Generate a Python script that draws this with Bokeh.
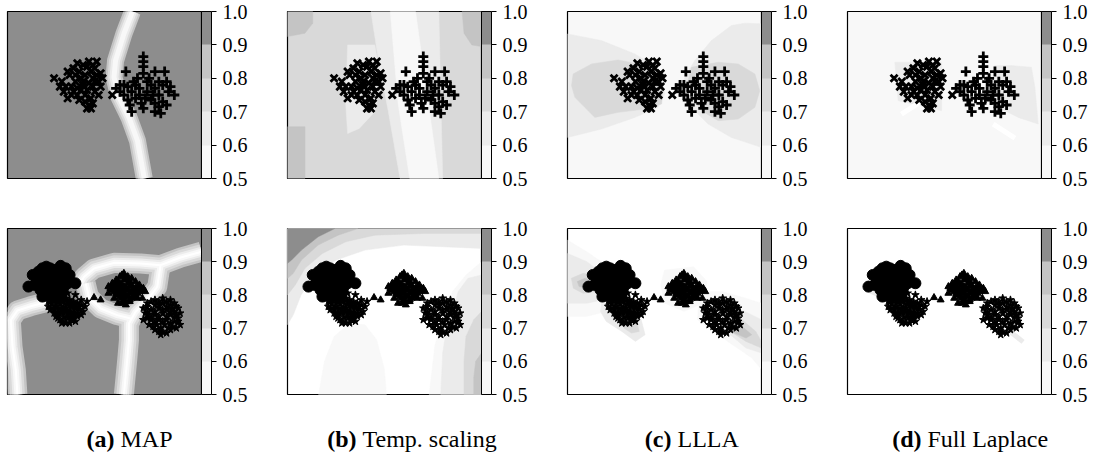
from bokeh.plotting import figure
from bokeh.models import Range1d, ColorBar, LinearColorMapper, FixedTicker, PrintfTickFormatter
from bokeh.layouts import row, column
from bokeh.embed import file_html
from bokeh.resources import INLINE
from bokeh.core.properties import value

# ---------------- levels / colours ----------------
LEVELS = [0.5, 0.6, 0.7, 0.8, 0.9, 1.0]
LEVEL_COLORS = ["#f8f8f8", "#ebebeb", "#d9d9d9", "#c4c4c4", "#8d8d8d"]
CAPTION_TAGS = ["(a)", "(b)", "(c)", "(d)"]
CAPTION_NAMES = ["MAP", "Temp. scaling", "LLLA", "Full Laplace"]
CAPTION_SPLIT = [120, 362, 677, 927]

# ---------------- top row data: two classes (x, +) ----------------
TOP_C0_X = [24, 28, 29, 31, 33, 32, 34, 36, 37, 38, 39, 40, 41, 42, 43, 44, 45, 46, 47, 48, 48, 45, 43, 42, 41,
            44, 40, 36, 35, 33, 30, 27, 37, 46, 39, 35, 42, 44, 47, 38, 41, 34, 49, 31, 44, 36, 40, 43, 39, 45, 54]
TOP_C0_Y = [60, 58, 52, 48, 50, 62, 66, 69, 64, 60, 56, 62, 67, 70, 64, 60, 66, 62, 58, 63, 55, 52, 48, 44, 42,
            45, 50, 54, 58, 55, 55, 55, 47, 70, 68, 62, 57, 55, 50, 53, 53, 52, 60, 64, 68, 50, 46, 42, 58, 58, 50]
TOP_C1_X = [70, 70, 70, 70, 61, 76, 81, 56, 58, 60, 62, 64, 66, 68, 72, 74, 76, 78, 80, 83, 86, 74, 76, 78, 80,
            82, 62, 66, 69, 64, 70, 76, 79, 72, 67, 65, 84, 60, 73, 78, 82, 75, 71, 63, 58, 68]
TOP_C1_Y = [73, 70, 67, 63, 64, 64, 64, 54, 52, 50, 55, 52, 56, 54, 52, 56, 54, 50, 56, 52, 50, 47, 45, 43, 46,
            44, 47, 48, 45, 40, 42, 40, 39, 58, 60, 58, 55, 56, 60, 58, 58, 50, 48, 44, 56, 50]

# ---------------- bottom row data: four classes ----------------
BOT_C0_X = [10.8, 27.4, 35, 16, 18, 20, 22, 24, 15, 17, 19, 21, 23, 25, 27, 29, 14, 16, 18, 20, 22, 24, 26, 28,
            30, 31, 17, 19, 21, 23, 25, 27, 29, 20, 22, 24, 26, 28, 18, 32, 30, 13]
BOT_C0_Y = [65, 77.5, 67, 74, 76, 77, 76, 75, 70, 71, 72, 73, 72, 71, 72, 73, 66, 67, 68, 69, 68, 67, 68, 69,
            70, 67, 63, 64, 65, 64, 63, 64, 65, 60, 61, 60, 60, 61, 59, 72, 76, 72]
BOT_C1_X = [20, 22, 24, 26, 28, 30, 32, 34, 36, 38, 40, 21, 23, 25, 27, 29, 31, 33, 35, 37, 39, 24, 26, 28, 30,
            32, 34, 36, 27, 29, 31, 33, 35, 30, 26, 41, 38, 22, 25, 31, 35,
            21, 23, 25, 27, 29, 31, 33, 35, 37, 22, 24, 26, 28, 30, 32, 34, 36, 38, 25, 29, 31, 33, 28, 32, 34]
BOT_C1_Y = [58, 56, 57, 56, 57, 58, 57, 56, 55, 54, 53, 53, 52, 53, 52, 53, 54, 53, 52, 51, 50, 49, 48, 49, 50,
            49, 48, 47, 45, 44, 46, 45, 44, 43, 46, 56, 57, 60, 62, 61, 60,
            56, 55, 55, 55, 56, 56, 55, 54, 53, 51, 51, 50, 51, 52, 51, 50, 49, 48, 47, 47, 48, 47, 43, 43, 46]
BOT_C2_X = [60, 58, 62, 64, 56, 60, 66, 54, 58, 62, 64, 68, 52, 56, 60, 66, 70, 54, 58, 62, 64, 68, 56, 60, 66,
            58, 62, 64, 60, 57, 61, 63, 55, 52, 67, 69.5, 44.6, 48, 71,
            59, 61, 57, 63, 55, 59, 63, 67, 53, 57, 61, 65, 69, 55, 59, 63, 67, 57, 61, 65, 59, 63, 61, 59]
BOT_C2_Y = [73, 71, 71, 70, 69, 69, 68, 67, 67, 67, 66, 66, 65, 65, 65, 64, 64, 63, 63, 63, 62, 62, 61, 61, 60,
            59, 59, 58, 57, 55, 54, 56, 58, 61, 58, 58, 58.4, 57, 62,
            72, 70, 68, 68, 66, 66, 65, 65, 64, 64, 64, 63, 63, 62, 62, 61, 61, 60, 60, 59, 58, 57, 56, 55]
BOT_C3_X = [76, 80, 84, 72, 76, 80, 84, 87, 70, 74, 78, 82, 86, 89, 72, 76, 80, 84, 88, 70, 74, 78, 82, 86, 73,
            77, 81, 85, 89, 76, 80, 84, 79, 71, 88,
            74, 78, 82, 86, 72, 78, 82, 85, 72, 76, 80, 84, 87, 74, 78, 82, 86, 72, 76, 80, 84, 88, 75, 79, 83,
            87, 78, 82]
BOT_C3_Y = [57, 58, 57, 55, 54, 55, 54, 53, 52, 51, 52, 51, 50, 49, 48, 48, 49, 48, 46, 45, 45, 45, 45, 44, 42,
            42, 42, 41, 42, 39, 38, 39, 36, 49, 52,
            56, 56, 56, 55, 53, 54, 53, 52, 50, 50, 51, 50, 48, 47, 47, 47, 47, 46, 44, 44, 43, 44, 41, 40, 40,
            40, 38, 37]

# ---------------- confidence regions (x, y in % of the box) ----------------
TA_BOUNDARY = [(64.4, 100), (60, 86.6), (55.7, 70.6), (54.9, 60.6), (57.5, 48.6), (62.6, 36.6), (67, 22.6), (70.5, 0)]
TB_CORNER_TL = [(0, 100), (13, 100), (13, 93), (9, 87), (0, 85)]
TB_CORNER_TR = [(90, 100), (100, 100), (100, 79), (95, 80), (91, 87)]
TB_STRIP_L = [(0, 31), (9, 31), (9, 0), (0, 0)]
TB_LIGHT_L = [(31, 80), (45, 80), (48, 60), (45, 40), (37, 30), (31, 27), (30, 45)]
TB_WEDGE = [(43, 100), (78, 100), (80, 0), (58, 0), (52, 40), (47, 70)]
TB_BAND = [(53, 100), (66, 100), (78, 0), (63, 0), (57, 45)]
TC_WING_L = [(0, 86.6), (17.5, 82.6), (34.7, 74.6), (43.3, 68.6), (48.5, 58.6), (50.2, 50.6), (46.7, 42.6),
             (34.7, 36.6), (17.5, 29.6), (0, 24.6)]
TC_WING_R = [(100, 92.6), (91.4, 93), (84.5, 91.6), (74.2, 82.6), (65.6, 70.6), (60.5, 60.6), (58.8, 52.6),
             (62.2, 44.6), (72.5, 32.6), (84.5, 24.6), (94.8, 20.6), (100, 18.6)]
TC_CORE_L = [(2.9, 62.6), (12.4, 68.6), (26.1, 71), (36.4, 68.6), (46.7, 63.6), (49.3, 54.6), (48.5, 44.6),
             (39.9, 41.6), (26.1, 39.6), (14.1, 36.6), (8.9, 42.6), (3.8, 48.6), (2.1, 55.6)]
TC_CORE_R = [(63.9, 66.6), (77.7, 69.6), (88, 68.6), (96.6, 62.6), (99.1, 52.6), (96.6, 42.6), (88, 35.6),
             (77.7, 34.6), (69.1, 40.6), (63.9, 48.6), (62.2, 58.6)]
TD_PATCH_L = [(24.4, 69.6), (48.5, 69.6), (48.5, 40.6), (26.1, 46.6)]
TD_PATCH_R = [(75.9, 67.6), (84.5, 67.6), (94.8, 66.6), (96.6, 54.6), (98.3, 32.6), (88, 36.6), (77.7, 42.6)]
TD_STREAK_1 = [(27.8, 38.6), (37.3, 45.6)]
TD_STREAK_2 = [(75.1, 32.6), (86.3, 24.2)]

BA_B1 = [(100, 86), (89.2, 82.5), (78.9, 77.9), (68.6, 78.9), (54.9, 79.3), (44.6, 75.9), (39.5, 70.9), (36.9, 65.9)]
BA_B2 = [(78.9, 77.9), (77.2, 64.9), (72, 56.8), (66, 49.8), (62.6, 42.8), (62.6, 32.7), (61.7, 20.7), (60, 0)]
BA_B3 = [(40.3, 66.9), (42, 58.8), (48, 51.8), (56.6, 47.8), (63.5, 45.8)]
BA_B4 = [(20.6, 55.8), (12, 53.2), (5.1, 50.6), (1.7, 44.8), (2.6, 28.7), (4.3, 14.7), (5.1, 0)]
BB_C5 = [(0, 100), (24.4, 100), (15.8, 95), (7.2, 87), (2.1, 81), (0, 79)]
BB_C4 = [(0, 100), (36.4, 100), (26.1, 96), (15.8, 90), (7.2, 81), (2.9, 72.9), (0, 69.9)]
BB_C3 = [(0, 100), (100, 100), (100, 97), (70, 97), (45, 96), (30, 92), (18, 85), (9, 76), (4, 66), (0, 60)]
BB_C2 = [(0, 100), (100, 100), (100, 88), (80, 89), (60, 90), (40, 87), (25, 81), (14, 72), (7, 60), (3, 48), (0, 42)]
BB_R1 = [(100, 80), (92, 72), (85, 62), (80, 45), (76, 30), (73, 0), (100, 0)]
BB_R2 = [(100, 72), (93, 70), (88, 62), (85, 50), (82, 40), (80, 25), (79, 0), (100, 0)]
BB_R3 = [(100, 50), (96, 45), (92, 35), (91, 20), (91, 0), (100, 0)]
BB_R4 = [(100, 25), (97, 20), (96, 10), (96, 0), (100, 0)]
BB_ARCH = [(16, 0), (19, 20), (24, 35), (32, 43), (40, 42), (46, 33), (50, 15), (51, 0)]
BC_L1 = [(0, 93), (10, 86), (20, 78), (27, 70), (28, 55), (20, 50), (10, 47), (0, 47)]
BC_L2 = [(0, 85), (10, 80), (18, 73), (22, 65), (18, 57), (10, 55), (0, 55)]
BC_L3 = [(2, 70), (8, 73), (14, 72), (18, 67), (15, 62), (8, 61), (3, 64)]
BC_L4 = [(5, 68), (9, 70), (13, 69), (14, 66), (10, 64), (6, 65)]
BC_U2 = [(17.5, 55), (30, 52), (38, 45), (40, 36), (35, 32), (28, 38), (20, 44), (17, 50)]
BC_U3 = [(30, 45), (36, 42), (37, 38), (33, 37), (29, 40)]
BC_R1 = [(68, 62), (80, 62), (92, 58), (100, 55), (100, 15), (95, 22), (85, 30), (75, 38), (67, 45)]
BC_R2 = [(75, 58), (88, 52), (100, 45), (100, 25), (92, 28), (85, 35), (76, 42), (72, 50)]
BC_R3 = [(80, 50), (90, 45), (97, 38), (100, 32), (100, 28), (92, 32), (84, 38), (79, 44)]
BC_R4 = [(84, 44), (91, 40), (95, 36), (92, 34), (86, 37), (82, 41)]
BC_MID = [(50, 75), (65, 77), (72, 68), (70, 55), (60, 50), (50, 55), (48, 66)]
BD_STREAK_1 = [(10.7, 62.9), (20.1, 57.8)]
BD_STREAK_2 = [(82.8, 38.8), (90.5, 31.7)]

TOP_BG = [4, 2, 0, 0]
BOT_BG = [4, None, None, None]

TOP_REGIONS = [
    [],
    [(TB_CORNER_TL, 3), (TB_CORNER_TR, 3), (TB_STRIP_L, 3), (TB_LIGHT_L, 1), (TB_WEDGE, 1), (TB_BAND, 0)],
    [(TC_WING_L, 1), (TC_WING_R, 1), (TC_CORE_L, 2), (TC_CORE_R, 2)],
    [(TD_PATCH_L, 1), (TD_PATCH_R, 1)],
]
BOT_REGIONS = [
    [],
    [(BB_C2, 1), (BB_C3, 2), (BB_C4, 3), (BB_C5, 4), (BB_R1, 0), (BB_R2, 1), (BB_R3, 2), (BB_R4, 3), (BB_ARCH, 0)],
    [(BC_L1, 0), (BC_L2, 1), (BC_L3, 2), (BC_L4, 3), (BC_U2, 1), (BC_U3, 2), (BC_MID, 0),
     (BC_R1, 0), (BC_R2, 1), (BC_R3, 2), (BC_R4, 3)],
    [],
]

SERIF = "'Liberation Serif', 'Times New Roman', Times, serif"
RIGHT_BORDERS = [79, 79, 79, 60]


def make_panel(frame_h, top_b, bot_b, bg_level, regions, right_b):
    p = figure(frame_width=194, frame_height=frame_h, x_range=Range1d(0, 100), y_range=Range1d(0, 100),
               min_border_left=7, min_border_right=right_b, min_border_top=top_b, min_border_bottom=bot_b,
               x_axis_location=None, y_axis_location=None, output_backend="svg", toolbar_location=None)
    p.grid.visible = False
    p.outline_line_color = "black"
    p.outline_line_width = 1.2
    p.outline_line_alpha = 1
    p.background_fill_color = "white" if bg_level is None else LEVEL_COLORS[bg_level]
    p.border_fill_color = "white"
    for pts, lvl in regions:
        c = LEVEL_COLORS[lvl]
        p.patch([q[0] for q in pts], [q[1] for q in pts], fill_color=c, line_color=c, line_width=0.5)
    mapper = LinearColorMapper(palette=LEVEL_COLORS, low=LEVELS[0], high=LEVELS[-1])
    cb = ColorBar(color_mapper=mapper, ticker=FixedTicker(ticks=LEVELS),
                  formatter=PrintfTickFormatter(format="%.1f"),
                  width=10, height=frame_h, padding=0, margin=9, label_standoff=6,
                  bar_line_color="black", bar_line_width=1,
                  major_tick_in=0, major_tick_out=5, major_tick_line_color="black",
                  minor_tick_line_color=None,
                  major_label_text_font=SERIF, major_label_text_font_size="20px",
                  major_label_text_color="black",
                  background_fill_alpha=0, border_line_color=None)
    p.add_layout(cb, "right")
    return p


def band(p, curves, widths, colors):
    for w, c in zip(widths, colors):
        p.multi_line([[q[0] for q in cv] for cv in curves], [[q[1] for q in cv] for cv in curves],
                     line_width=w, line_color=c, line_join="round", line_cap="butt")


top_figs = []
for i in range(4):
    p = make_panel(167, 11, 25, TOP_BG[i], TOP_REGIONS[i], RIGHT_BORDERS[i])
    if i == 0:
        band(p, [TA_BOUNDARY], [17, 13, 9, 5], [LEVEL_COLORS[3], LEVEL_COLORS[2], LEVEL_COLORS[1], LEVEL_COLORS[0]])
    if i == 3:
        band(p, [TD_STREAK_1, TD_STREAK_2], [5], ["white"])
    p.scatter(TOP_C0_X, TOP_C0_Y, marker="x", size=10, line_width=2.8, line_color="black")
    p.scatter(TOP_C1_X, TOP_C1_Y, marker="cross", size=10, line_width=2.8, line_color="black")
    top_figs.append(p)

bot_figs = []
for i in range(4):
    p = make_panel(166, 25, 12, BOT_BG[i], BOT_REGIONS[i], RIGHT_BORDERS[i])
    if i == 0:
        band(p, [BA_B1, BA_B2, BA_B3, BA_B4], [20, 15, 10, 6, 2],
             [LEVEL_COLORS[3], LEVEL_COLORS[2], LEVEL_COLORS[1], LEVEL_COLORS[0], "white"])
    if i == 3:
        band(p, [BD_STREAK_1, BD_STREAK_2], [5], [LEVEL_COLORS[1]])
    p.scatter(BOT_C0_X, BOT_C0_Y, marker="circle", size=11, fill_color="black", line_color="black")
    p.scatter(BOT_C1_X, BOT_C1_Y, marker="star", size=8, fill_color="black", line_color="black")
    p.scatter(BOT_C2_X, BOT_C2_Y, marker="triangle", size=7, fill_color="black", line_color="black")
    p.scatter(BOT_C3_X, BOT_C3_Y, marker="star", size=8, fill_color="black", line_color="black")
    bot_figs.append(p)

cap = figure(width=1101, height=51, x_range=Range1d(0, 1101), y_range=Range1d(0, 51),
             min_border=0, x_axis_location=None, y_axis_location=None,
             output_backend="svg", toolbar_location=None)
cap.grid.visible = False
cap.outline_line_color = None
cap.text([s - 6 for s in CAPTION_SPLIT], [19] * 4, text=CAPTION_TAGS, text_align="right",
         text_baseline="alphabetic", text_font=value(SERIF), text_font_style="bold",
         text_font_size="24px", text_color="black")
cap.text(CAPTION_SPLIT, [19] * 4, text=CAPTION_NAMES, text_align="left",
         text_baseline="alphabetic", text_font=value(SERIF), text_font_size="24px", text_color="black")

layout = column(row(*top_figs), row(*bot_figs), cap)
open("out.html", "w").write(file_html(layout, INLINE))
